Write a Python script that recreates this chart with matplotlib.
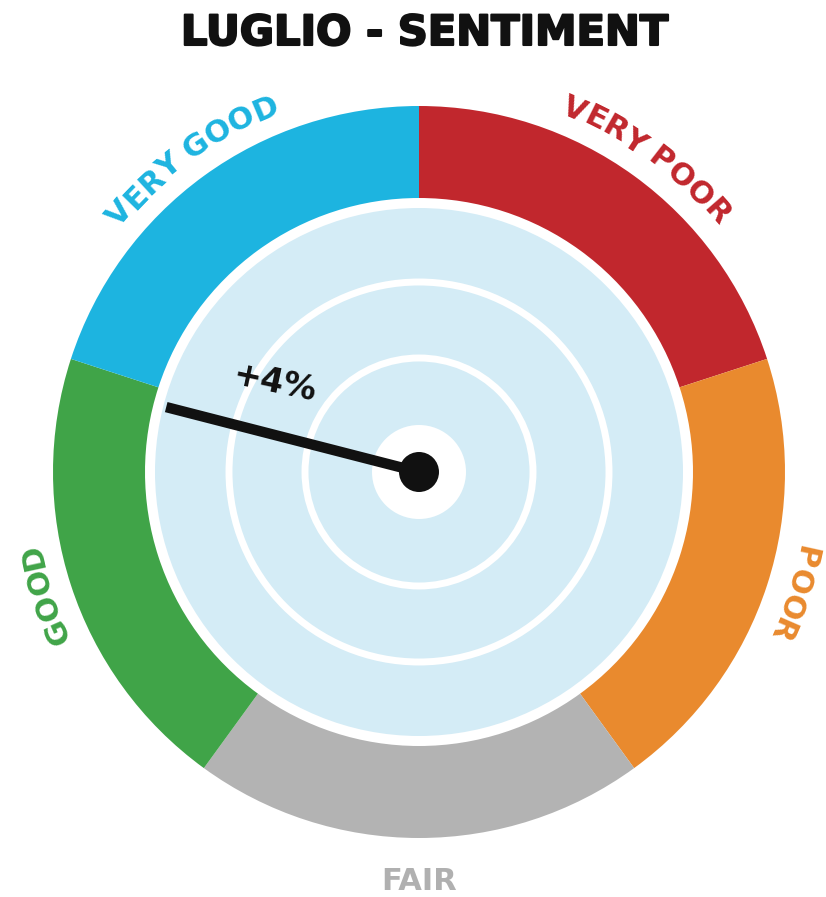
import matplotlib
matplotlib.use('Agg')
import matplotlib.pyplot as plt
import matplotlib.patheffects as pe
import numpy as np
from matplotlib.patches import Circle
from matplotlib.font_manager import FontProperties

# data
title = 'LUGLIO - SENTIMENT'
segments = ['VERY POOR', 'POOR', 'FAIR', 'GOOD', 'VERY GOOD']
shares = [1, 1, 1, 1, 1]
seg_colors = ['#C1272D', '#E98A2E', '#B3B3B3', '#40A448', '#1DB4E0']
label_colors = ['#C1272D', '#E98A2E', '#B0B0B0', '#40A448', '#1DB4E0']
needle_pos = 3.95  # position on the scale, in segments clockwise from the top
needle_label = '+4%'

# geometry (pixels)
W, H = 826, 897
cx, cy = 419, 472
R_OUT, R_IN = 366, 274
R_DISK = 264
RINGS = [190, 114]
R_HUB, R_DOT = 47, 20
R_NEEDLE = 261
R_TEXT = 386
R_FAIR = 410

fig = plt.figure(figsize=(W / 100, H / 100), dpi=100)
ax = fig.add_axes([0, 0, 1, 1])

ax.pie(shares, colors=seg_colors, radius=R_OUT, startangle=90, counterclock=False,
       wedgeprops=dict(width=R_OUT - R_IN, linewidth=0))
ax.add_patch(Circle((0, 0), R_DISK, color='#D4ECF6', lw=0))
for r in RINGS:
    ax.add_patch(Circle((0, 0), r, fill=False, ec='white', lw=5))
ax.add_patch(Circle((0, 0), R_HUB, color='white', lw=0))

# needle
ang = needle_pos / sum(shares) * 360
t = np.deg2rad(ang)
ux, uy = np.sin(t), np.cos(t)
ax.plot([0, R_NEEDLE * ux], [0, R_NEEDLE * uy], color='#111111', lw=7.5,
        solid_capstyle='butt')
ax.add_patch(Circle((0, 0), R_DOT, color='#111111', lw=0))

# needle label, a bit above the needle
nx, ny = uy, -ux
if ny < 0:
    nx, ny = -nx, -ny
lx = 0.62 * R_NEEDLE * ux + 50 * nx
ly = 0.62 * R_NEEDLE * uy + 50 * ny
ax.text(lx, ly, needle_label, ha='center', va='center', rotation=-12,
        fontsize=24, fontweight='bold', color='#111111')

# curved labels
fp = FontProperties(family='DejaVu Sans', weight='bold', size=22)
renderer = fig.canvas.get_renderer()


def text_w(s):
    w1 = renderer.get_text_width_height_descent('I' + s + 'I', fp, ismath=False)[0]
    w0 = renderer.get_text_width_height_descent('II', fp, ismath=False)[0]
    return w1 - w0


def arc_text(s, center_deg, radius, color):
    total = text_w(s)
    for i, ch in enumerate(s):
        off = -total / 2 + text_w(s[:i]) + text_w(ch) / 2
        a = center_deg + np.rad2deg(off / radius)
        ar = np.deg2rad(a)
        ax.text(radius * np.sin(ar), radius * np.cos(ar), ch, rotation=-a,
                rotation_mode='anchor', ha='center', va='baseline',
                fontproperties=fp, color=color)


step = 360 / sum(shares)
start = 0
for name, share, col in zip(segments, shares, label_colors):
    mid = start + share * step / 2
    start += share * step
    if name == 'FAIR':
        a = np.deg2rad(mid)
        ax.text(R_FAIR * np.sin(a), R_FAIR * np.cos(a), name, ha='center',
                va='center', fontproperties=fp, color=col)
    else:
        arc_text(name, mid, R_TEXT, col)

fig.text(425 / W, 1 - 33 / H, title, ha='center', va='center', fontsize=30,
         fontweight='bold', color='#111111',
         path_effects=[pe.withStroke(linewidth=1.5, foreground='#111111')])

ax.set_xlim(-cx, W - cx)
ax.set_ylim(cy - H, cy)
ax.set_aspect('equal')
ax.axis('off')

fig.savefig('out.png', dpi=100)
